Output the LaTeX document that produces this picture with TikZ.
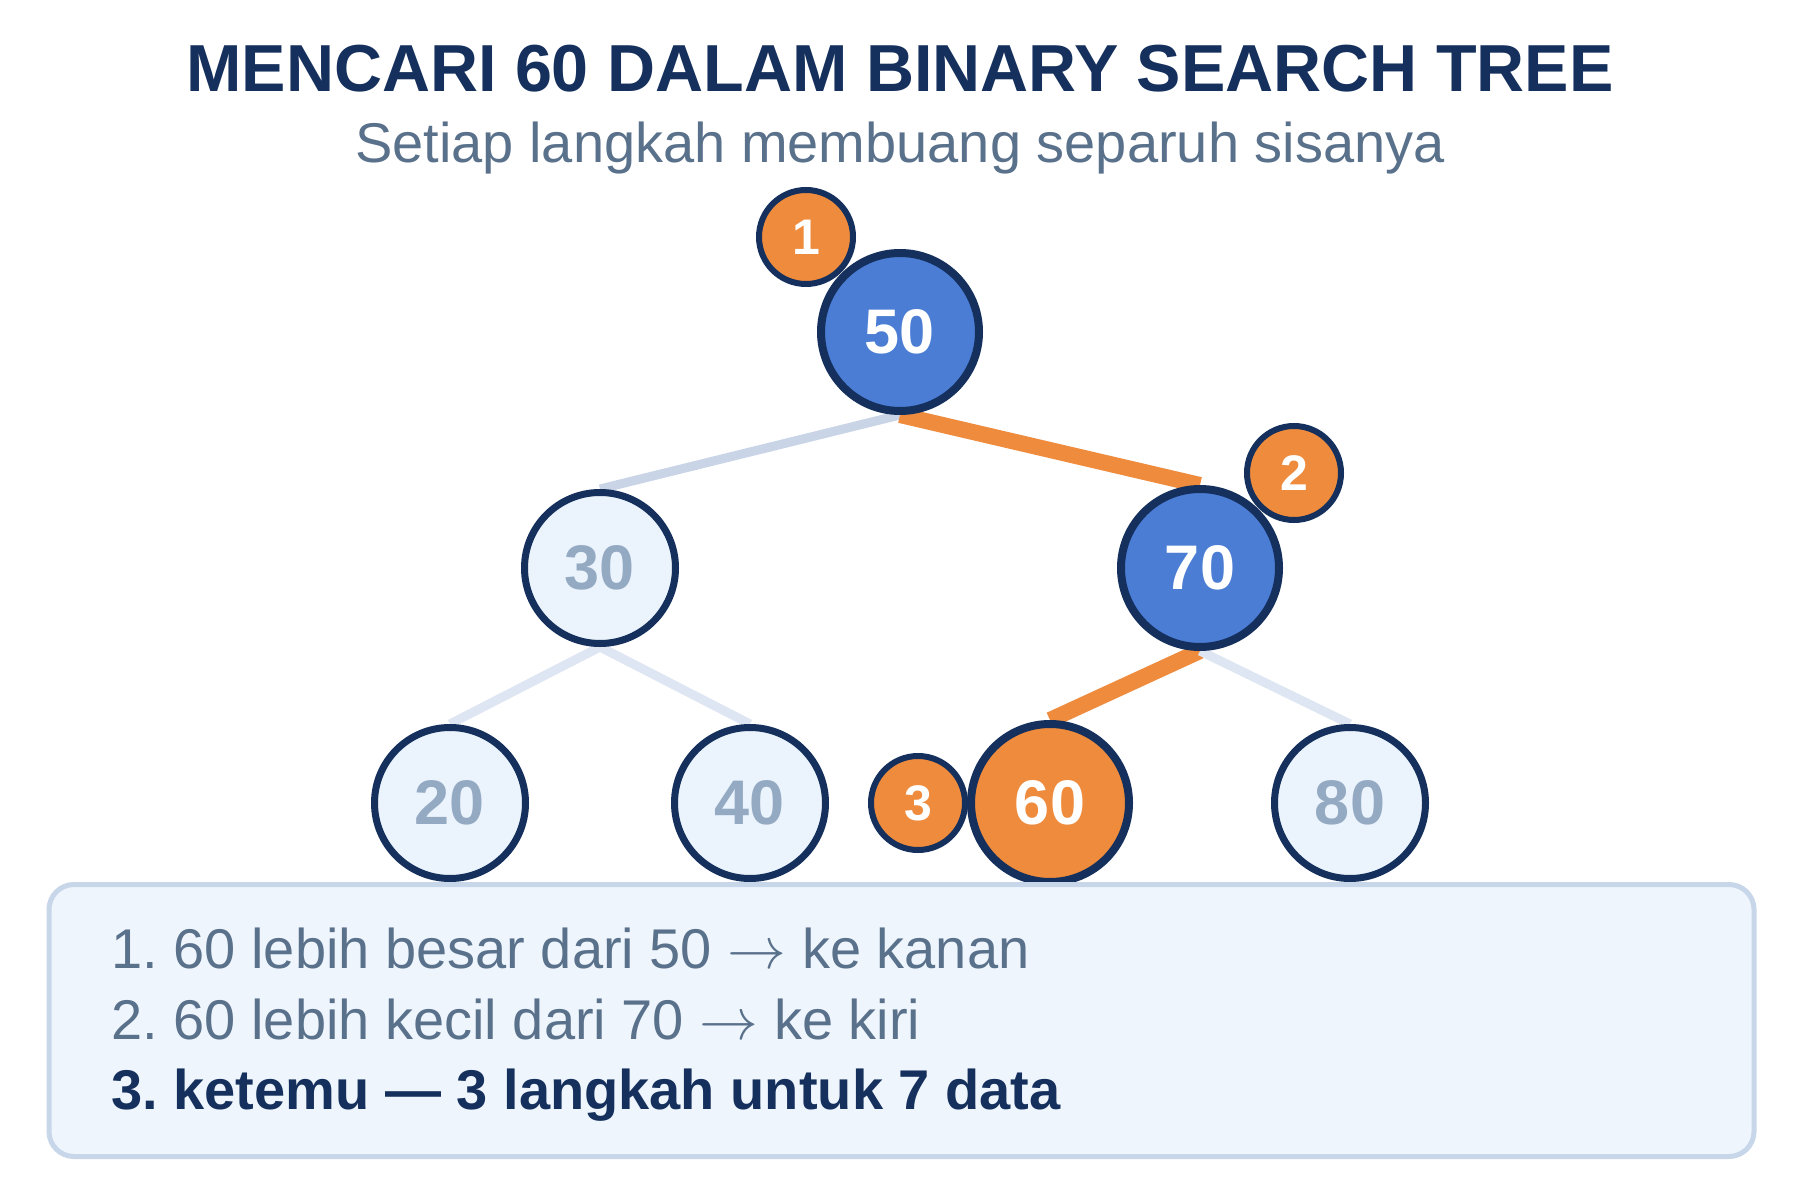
\RequirePackage{fix-cm}
\documentclass[tikz,border=0pt]{standalone}
\usepackage{fontspec}
\setmainfont{Liberation Sans}
\usetikzlibrary{backgrounds}
\definecolor{navy}{HTML}{15305C}
\definecolor{subgray}{HTML}{5A718B}
\definecolor{nodeblue}{HTML}{4A7DD3}
\definecolor{orng}{HTML}{EE8B3D}
\definecolor{lightfill}{HTML}{EBF3FC}
\definecolor{lighttext}{HTML}{94AAC3}
\definecolor{edgelight}{HTML}{C9D5E7}
\definecolor{edgelighter}{HTML}{DDE6F2}
\definecolor{boxfill}{HTML}{EEF5FD}
\definecolor{boxborder}{HTML}{C8D6EA}
\newcommand{\steparrow}{\scalebox{1.05}{$\rightarrow$}}
\frenchspacing
\begin{document}
\begin{tikzpicture}[x=0.5pt,y=-0.5pt,
  numfont/.style={font=\fontsize{31.5}{31.5}\selectfont\bfseries},
  lightnode/.style={circle,draw=navy,line width=3.5pt,fill=lightfill,minimum size=75.5pt,inner sep=0pt,text=lighttext,numfont},
  bluenode/.style={circle,draw=navy,line width=4pt,fill=nodeblue,minimum size=79pt,inner sep=0pt,text=white,numfont},
  orangenode/.style={circle,draw=navy,line width=4pt,fill=orng,minimum size=79pt,inner sep=0pt,text=white,numfont},
  badge/.style={circle,draw=navy,line width=3pt,fill=orng,minimum size=47pt,inner sep=0pt,text=white,font=\fontsize{25}{25}\selectfont\bfseries},
  pathedge/.style={draw=orng,line width=8pt},
  offedge/.style={draw=edgelight,line width=4.5pt},
  faredge/.style={draw=edgelighter,line width=4.5pt},
  steptext/.style={anchor=base west,inner sep=0pt,text=subgray,font=\fontsize{28}{28}\selectfont},
]
\useasboundingbox (0,0) rectangle (1800,1192);

% title
\node (title) [anchor=base,inner sep=0pt,text=navy,font=\fontsize{33.25}{33.25}\selectfont\bfseries] at (900,92) {MENCARI 60 DALAM BINARY SEARCH TREE};
\node (subtitle) [anchor=base,inner sep=0pt,text=subgray,font=\fontsize{28}{28}\selectfont] at (900,163) {Setiap langkah membuang separuh sisanya};

% tree nodes
\node (n50) [bluenode] at (900,332) {50};
\node (n30) [lightnode] at (600,568) {30};
\node (n70) [bluenode] at (1200,568) {70};
\node (n20) [lightnode] at (450,803) {20};
\node (n40) [lightnode] at (750,803) {40};
\node (n60) [orangenode] at (1050,803) {60};
\node (n80) [lightnode] at (1350,803) {80};

% badges
\node (b1) [badge] at (806,237) {1};
\node (b2) [badge] at (1294,473) {2};
\node (b3) [badge] at (918,803) {3};

% edges
\begin{scope}[on background layer]
  \fill[white] (0,0) rectangle (1800,1192);
  \path[offedge] (n50.south) -- (n30.north);
  \path[pathedge] (n50.south) -- (n70.north);
  \path[faredge] (n30.south) -- (n20.north);
  \path[faredge] (n30.south) -- (n40.north);
  \path[pathedge] (n70.south) -- (n60.north);
  \path[faredge] (n70.south) -- (n80.north);
\end{scope}

% explanation box
\node (box) [draw=boxborder,fill=boxfill,line width=2.5pt,rounded corners=12.5pt,minimum width=852.5pt,minimum height=136pt,inner sep=0pt] at (901.5,1020.5) {};
\node (s1) [steptext] at (111,968) {1. 60 lebih besar dari 50 \steparrow{} ke kanan};
\node (s2) [steptext] at (111,1039) {2. 60 lebih kecil dari 70 \steparrow{} ke kiri};
\node (s3) [steptext,text=navy,font=\fontsize{28}{28}\selectfont\bfseries] at (111,1109) {3. ketemu — 3 langkah untuk 7 data};
\end{tikzpicture}
\end{document}
